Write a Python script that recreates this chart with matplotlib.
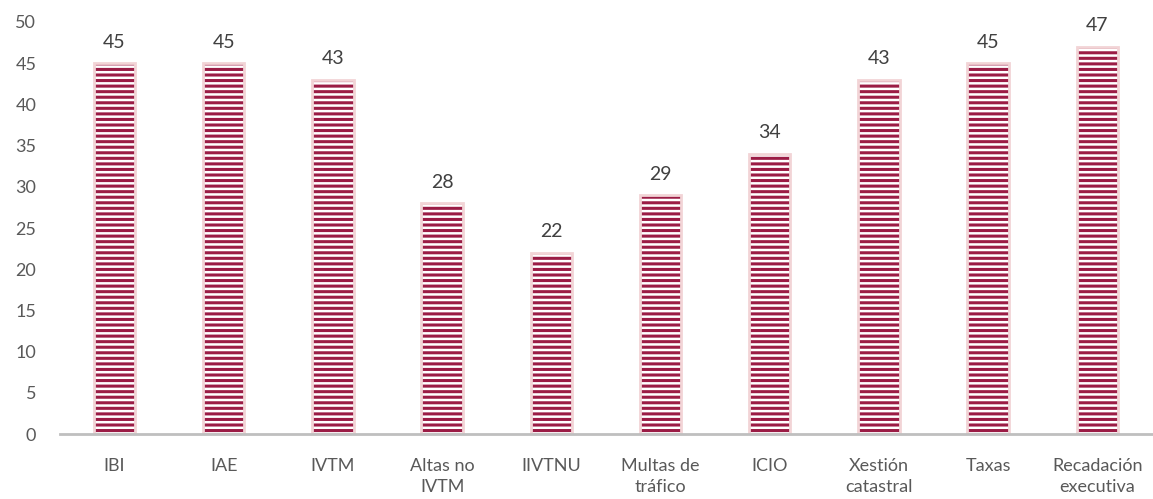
import matplotlib.pyplot as plt
import numpy as np

categories = ['IBI', 'IAE', 'IVTM', 'Altas no\nIVTM', 'IIVTNU', 'Multas de\ntráfico',
              'ICIO', 'Xestión\ncatastral', 'Taxas', 'Recadación\nexecutiva']
values = [45, 45, 43, 28, 22, 29, 34, 43, 45, 47]

plt.rcParams['font.family'] = ['Lato', 'DejaVu Sans']
plt.rcParams['hatch.linewidth'] = 2.2

fig = plt.figure(figsize=(11.53, 4.99), dpi=100)
ax = fig.add_axes([0.052, 0.13, 0.947, 0.826])

x = np.arange(len(categories))
crimson = '#9B1C45'
pink = '#F2D4D6'
# striped fill
ax.bar(x, values, width=0.38, color='white', edgecolor=crimson, hatch='---', linewidth=0)
# light outline
ax.bar(x, values, width=0.38, fill=False, edgecolor=pink, linewidth=2)

for xi, v in zip(x, values):
    ax.text(xi, v + 1.5, str(v), ha='center', va='bottom', fontsize=14, color='#404040')

ax.set_xlim(-0.5, len(categories) - 0.5)
ax.set_ylim(0, 50)
ax.set_yticks(np.arange(0, 51, 5))
ax.set_xticks(x)
ax.set_xticklabels(categories, fontsize=13, color='#595959', linespacing=1.4)
ax.tick_params(axis='y', labelsize=13, labelcolor='#595959', length=0, pad=17)
ax.tick_params(axis='x', length=0, pad=17)
for s in ['top', 'right', 'left']:
    ax.spines[s].set_visible(False)
ax.spines['bottom'].set_color('#BFBFBF')
ax.spines['bottom'].set_linewidth(2)

fig.savefig('out.png', dpi=100)
